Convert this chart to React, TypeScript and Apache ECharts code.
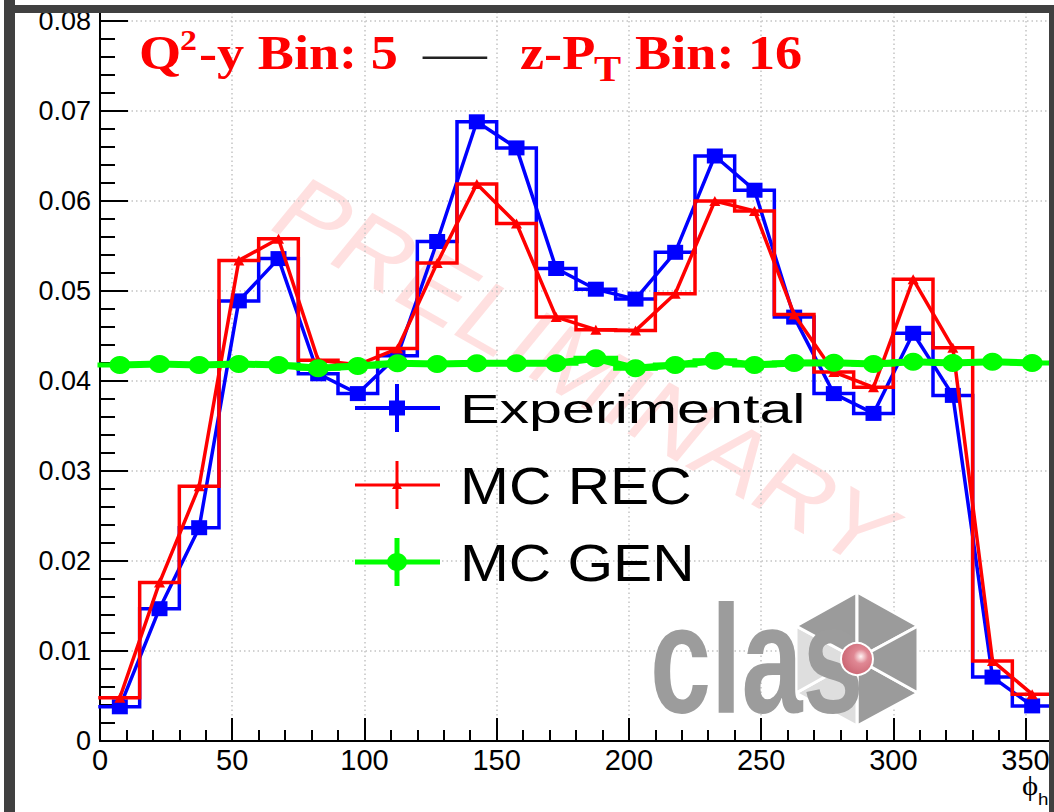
import React, { useEffect, useRef } from 'react';
import * as echarts from 'echarts';

// phi_h binning: 24 bins of 15 degrees
const binEdges = [0, 15, 30, 45, 60, 75, 90, 105, 120, 135, 150, 165, 180, 195, 210, 225, 240, 255, 270, 285, 300, 315, 330, 345, 360];
const binCenters = [7.5, 22.5, 37.5, 52.5, 67.5, 82.5, 97.5, 112.5, 127.5, 142.5, 157.5, 172.5, 187.5, 202.5, 217.5, 232.5, 247.5, 262.5, 277.5, 292.5, 307.5, 322.5, 337.5, 352.5];

// normalised yields per bin
const experimental = [0.0038, 0.0147, 0.0237, 0.0489, 0.0536, 0.0408, 0.0386, 0.0428, 0.0555, 0.0688, 0.0659, 0.0525, 0.0502, 0.0491, 0.0543, 0.0650, 0.0612, 0.0471, 0.0386, 0.0364, 0.0453, 0.0384, 0.0071, 0.0039];
const mcRec = [0.0048, 0.0176, 0.0283, 0.0534, 0.0558, 0.0423, 0.0418, 0.0436, 0.0531, 0.0619, 0.0575, 0.0471, 0.0457, 0.0456, 0.0497, 0.0600, 0.0589, 0.0474, 0.0410, 0.0393, 0.0513, 0.0437, 0.0089, 0.0052];
const mcGen = [0.04178, 0.04189, 0.04178, 0.04189, 0.04178, 0.04141, 0.04167, 0.04197, 0.04189, 0.04197, 0.04197, 0.04197, 0.04252, 0.04141, 0.04178, 0.04226, 0.04178, 0.0420, 0.04203, 0.04189, 0.04214, 0.0420, 0.04214, 0.0420];

// axis ranges and tick spacing
const xRange = [0, 360];
const xMajor = 50;
const xMinor = 10;
const yRange = [0, 0.081];
const yMajor = 0.01;
const yMinor = 0.002;
const yLabelMax = 0.08;

const legendNames = ['Experimental', 'MC REC', 'MC GEN'];

const BLUE = '#0000ff';
const RED = '#ff0000';
const GREEN = '#00ff00';
const FRAME = '#404040';
const SANS = '"Liberation Sans", Arial, Helvetica, sans-serif';
const SERIF = '"Liberation Serif", "Times New Roman", serif';

const stepPoints = (vals: number[]) =>
  vals.flatMap((v, i) => [[binEdges[i], v], [binEdges[i + 1], v]]);
const centerPoints = (vals: number[]) => vals.map((v, i) => [binCenters[i], v]);

const histSeries = (name: string, vals: number[], color: string, width: number, z: number) => ({
  type: 'line',
  name: name + ' hist',
  data: stepPoints(vals),
  symbol: 'none',
  showSymbol: false,
  silent: true,
  lineStyle: { color, width, cap: 'square', join: 'miter' },
  itemStyle: { color },
  z,
});

const pointSeries = (
  name: string,
  vals: number[],
  color: string,
  width: number,
  symbol: string,
  size: number[],
  z: number
) => ({
  type: 'line',
  name,
  data: centerPoints(vals),
  symbol,
  symbolSize: size,
  showSymbol: true,
  silent: true,
  lineStyle: { color, width },
  itemStyle: { color },
  z,
});

const titleText = (text: string, x: number, y: number, font: string, fill: string, scaleX: number) => ({
  type: 'text',
  x,
  y,
  scaleX,
  z: 6,
  silent: true,
  style: {
    text,
    font,
    fill,
    textAlign: 'left',
    align: 'left',
    textVerticalAlign: 'middle',
    verticalAlign: 'middle',
  },
});

export default function App() {
  const ref = useRef<HTMLDivElement>(null);

  useEffect(() => {
    if (!ref.current) return;
    const chart = echarts.init(ref.current, undefined, { renderer: 'svg', width: 1054, height: 812 });

    const tickLine = { color: '#000', width: 2 };
    const gridLine = { color: '#c4c4c4', width: 1.5, type: [1.5, 3] };

    // legend entries: marker line with error-bar cross, then label
    const legendRows = [
      { y: 408, color: BLUE, lw: 4 },
      { y: 485, color: RED, lw: 3 },
      { y: 562, color: GREEN, lw: 5 },
    ];
    const legendGraphics: any[] = [];
    legendRows.forEach((r) => {
      legendGraphics.push({
        type: 'line', z: 6, silent: true,
        shape: { x1: 355, y1: r.y, x2: 440, y2: r.y },
        style: { stroke: r.color, lineWidth: r.lw },
      });
      legendGraphics.push({
        type: 'line', z: 6, silent: true,
        shape: { x1: 397, y1: r.y - 24, x2: 397, y2: r.y + 24 },
        style: { stroke: r.color, lineWidth: r.lw },
      });
    });
    legendGraphics.push({
      type: 'rect', z: 7, silent: true,
      shape: { x: 389, y: 400.5, width: 16, height: 15 },
      style: { fill: BLUE },
    });
    legendGraphics.push({
      type: 'polygon', z: 7, silent: true,
      shape: { points: [[397, 480], [402, 489], [392, 489]] },
      style: { fill: RED },
    });
    legendGraphics.push({
      type: 'ellipse', z: 7, silent: true,
      shape: { cx: 397, cy: 562, rx: 10, ry: 9 },
      style: { fill: GREEN },
    });
    legendGraphics.push(titleText(legendNames[0], 460, 409, `40px ${SANS}`, '#000', 1.48));
    legendGraphics.push(titleText(legendNames[1], 460, 486, `52px ${SANS}`, '#000', 1.13));
    legendGraphics.push(titleText(legendNames[2], 460, 563, `51px ${SANS}`, '#000', 1.15));

    // CLAS logo: hexagon of six triangles with a sphere in the middle, plus lettering
    const cx = 857, cy = 659;
    const T = [857, 592], UR = [918, 626], LR = [918, 693], B = [857, 726], LL = [796, 693], UL = [796, 626];
    const C = [cx, cy];
    const DARK = '#9b9b9b', LIGHT = '#dedede';
    const tri = (p: number[][], fill: string) => ({
      type: 'polygon', z: 1, silent: true,
      shape: { points: p },
      style: { fill, stroke: '#ffffff', lineWidth: 3, lineJoin: 'round' },
    });
    const logo: any[] = [
      tri([C, LR, B], DARK),
      tri([C, B, LL], LIGHT),
      tri([C, LL, UL], LIGHT),
      tri([C, UL, T], DARK),
      tri([C, T, UR], DARK),
      tri([C, UR, LR], DARK),
      {
        type: 'text', z: 2, silent: true,
        x: 650, y: 660, scaleX: 0.93, scaleY: 1.3,
        style: {
          text: 'clas', font: `bold 118px ${SANS}`, fill: '#9c9c9c',
          textAlign: 'left', align: 'left', textVerticalAlign: 'middle', verticalAlign: 'middle',
        },
      },
      {
        type: 'circle', z: 3, silent: true,
        shape: { cx, cy, r: 16 },
        style: {
          fill: {
            type: 'radial', x: 0.62, y: 0.42, r: 0.75,
            colorStops: [
              { offset: 0, color: '#fff4f4' },
              { offset: 0.3, color: '#e08894' },
              { offset: 1, color: '#c45a68' },
            ],
          },
          stroke: '#ffffff',
          lineWidth: 2,
        },
      },
    ];

    const option: any = {
      animation: false,
      backgroundColor: '#ffffff',
      grid: {
        left: 100,
        top: 12,
        right: 2,
        bottom: 71,
        containLabel: false,
        outerBoundsMode: 'none',
      },
      xAxis: [
        {
          type: 'value',
          min: xRange[0],
          max: xRange[1],
          interval: xMajor,
          position: 'bottom',
          axisLine: { show: true, onZero: false, lineStyle: tickLine },
          axisTick: { show: true, inside: true, length: 23, lineStyle: tickLine },
          axisLabel: {
            show: true,
            margin: 4,
            fontFamily: SANS,
            fontSize: 29,
            color: '#000',
            formatter: (v: number) => (Math.round(v) % xMajor === 0 && v < xRange[1] ? String(Math.round(v)) : ''),
          },
          splitLine: { show: true, lineStyle: gridLine },
        },
        {
          type: 'value',
          min: xRange[0],
          max: xRange[1],
          interval: xMinor,
          position: 'bottom',
          axisLine: { show: false },
          axisTick: { show: true, inside: true, length: 11, lineStyle: tickLine },
          axisLabel: { show: false },
          splitLine: { show: false },
        },
      ],
      yAxis: [
        {
          type: 'value',
          min: yRange[0],
          max: yRange[1],
          interval: yMajor,
          position: 'left',
          axisLine: { show: true, onZero: false, lineStyle: tickLine },
          axisTick: { show: true, inside: true, length: 28, lineStyle: tickLine },
          axisLabel: {
            show: true,
            margin: 9,
            fontFamily: SANS,
            fontSize: 27,
            color: '#000',
            formatter: (v: number) => {
              const k = Math.round(v / yMajor);
              if (Math.abs(v / yMajor - k) > 1e-6 || v > yLabelMax + 1e-9) return '';
              return k === 0 ? '0' : (k * yMajor).toFixed(2);
            },
          },
          splitLine: { show: true, lineStyle: gridLine },
        },
        {
          type: 'value',
          min: yRange[0],
          max: yRange[1],
          interval: yMinor,
          position: 'left',
          axisLine: { show: false },
          axisTick: { show: true, inside: true, length: 15, lineStyle: tickLine },
          axisLabel: { show: false },
          splitLine: { show: false },
        },
      ],
      series: [
        histSeries(legendNames[0], experimental, BLUE, 3.5, 3),
        pointSeries(legendNames[0], experimental, BLUE, 3.5, 'rect', [16, 15], 4),
        histSeries(legendNames[1], mcRec, RED, 3.5, 5),
        pointSeries(legendNames[1], mcRec, RED, 3.5, 'triangle', [11, 10], 6),
        histSeries(legendNames[2], mcGen, GREEN, 5, 7),
        pointSeries(legendNames[2], mcGen, GREEN, 7, 'circle', [21, 18], 8),
      ],
      graphic: [
        // PRELIMINARY watermark
        {
          type: 'group', x: 586, y: 372, scaleX: 1.2, z: 0, silent: true,
          children: [
            {
              type: 'text', rotation: -0.6, silent: true,
              style: {
                text: 'PRELIMINARY', font: `90px ${SANS}`, fill: 'rgba(255,0,0,0.12)',
                textAlign: 'center', align: 'center', textVerticalAlign: 'middle', verticalAlign: 'middle',
              },
            },
          ],
        },
        ...logo,
        // title
        titleText('Q', 139, 53, `bold 48px ${SERIF}`, RED, 1.13),
        titleText('2', 180, 40, `bold 30px ${SERIF}`, RED, 1.13),
        titleText('-y Bin: 5', 199, 53, `bold 48px ${SERIF}`, RED, 1.13),
        titleText('—', 423, 53, `48px ${SERIF}`, '#222222', 1.33),
        titleText('z-P', 520, 53, `bold 48px ${SERIF}`, RED, 1.13),
        titleText('T', 594, 69, `bold 36px ${SERIF}`, RED, 1.13),
        titleText('Bin: 16', 635, 53, `bold 48px ${SERIF}`, RED, 1.13),
        ...legendGraphics,
        // x-axis title
        titleText('ϕ', 1022, 785, `28px ${SERIF}`, '#000', 1.1),
        titleText('h', 1038, 799, `17px ${SANS}`, '#000', 1.1),
        // canvas frame
        { type: 'rect', z: 20, silent: true, shape: { x: 4, y: 0, width: 11, height: 812 }, style: { fill: FRAME } },
        { type: 'rect', z: 20, silent: true, shape: { x: 4, y: 5, width: 1050, height: 8 }, style: { fill: FRAME } },
        { type: 'rect', z: 20, silent: true, shape: { x: 1049, y: 5, width: 5, height: 807 }, style: { fill: FRAME } },
      ],
    };

    chart.setOption(option);
    return () => chart.dispose();
  }, []);

  return (
    <div
      ref={ref}
      style={{ position: 'fixed', left: 0, top: 0, width: 1054, height: 812, background: '#ffffff' }}
    />
  );
}
